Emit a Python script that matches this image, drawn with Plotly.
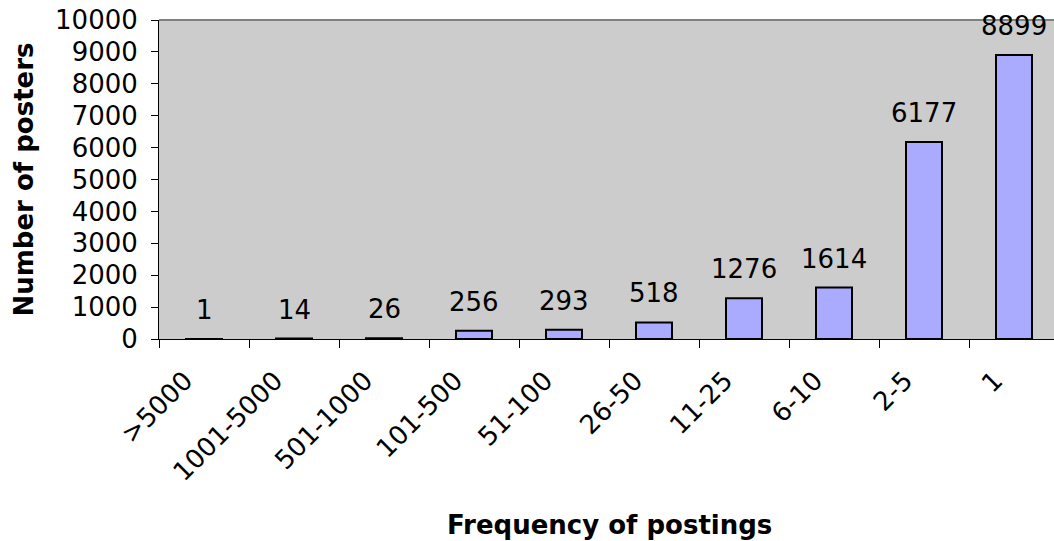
import plotly.graph_objects as go

categories = [">5000", "1001-5000", "501-1000", "101-500", "51-100",
              "26-50", "11-25", "6-10", "2-5", "1"]
posters = [1, 14, 26, 256, 293, 518, 1276, 1614, 6177, 8899]
y_ticks = list(range(0, 10001, 1000))

FONT = "DejaVu Sans"
FS = 26

fig = go.Figure()
fig.add_trace(go.Bar(
    x=categories, y=posters, width=0.4,
    marker=dict(color="#AAAAFF", line=dict(color="black", width=2)),
    hoverinfo="x+y",
))

annotations = []
for i, v in enumerate(posters):
    annotations.append(dict(
        x=i, y=v, xref="x", yref="y", text=str(v), showarrow=False,
        yanchor="bottom", yshift=12,
        font=dict(family=FONT, size=FS, color="black"),
    ))

annotations.append(dict(
    x=(609 - 159) / 895, y=(339 - 525) / 319, xref="paper", yref="paper",
    text="<b>Frequency of postings</b>", showarrow=False,
    xanchor="center", yanchor="middle",
    font=dict(family=FONT, size=FS, color="black"),
))
annotations.append(dict(
    x=(23 - 159) / 895, y=0.5, xref="paper", yref="paper",
    text="<b>Number of posters</b>", showarrow=False, textangle=-90,
    xanchor="center", yanchor="middle",
    font=dict(family=FONT, size=FS, color="black"),
))

fig.update_layout(
    width=1054, height=541,
    margin=dict(l=159, r=0, t=20, b=202, pad=0),
    paper_bgcolor="white",
    plot_bgcolor="#CCCCCC",
    showlegend=False,
    font=dict(family=FONT, size=FS, color="black"),
    annotations=annotations,
    shapes=[dict(type="line", xref="x domain", yref="y domain",
                 x0=0, x1=1, y0=1, y1=1,
                 line=dict(color="#808080", width=2))],
)

fig.update_xaxes(
    range=[-0.5, 9.5 - 5 / 90],
    tickangle=-45,
    tickson="boundaries",
    ticks="outside", ticklen=8, tickcolor="black", tickwidth=1,
    ticklabelstandoff=15, ticklabelshift=-19,
    showline=True, linecolor="black", linewidth=1,
    showgrid=False, zeroline=False,
    tickfont=dict(family=FONT, size=FS, color="black"),
)
fig.update_yaxes(
    range=[0, 10000],
    tickvals=y_ticks, ticktext=[str(t) for t in y_ticks],
    ticks="outside", ticklen=7, tickcolor="black", tickwidth=1,
    ticklabelstandoff=8,
    showline=True, linecolor="black", linewidth=1,
    showgrid=False, zeroline=False,
    tickfont=dict(family=FONT, size=FS, color="black"),
)

fig.write_html("out.html")
